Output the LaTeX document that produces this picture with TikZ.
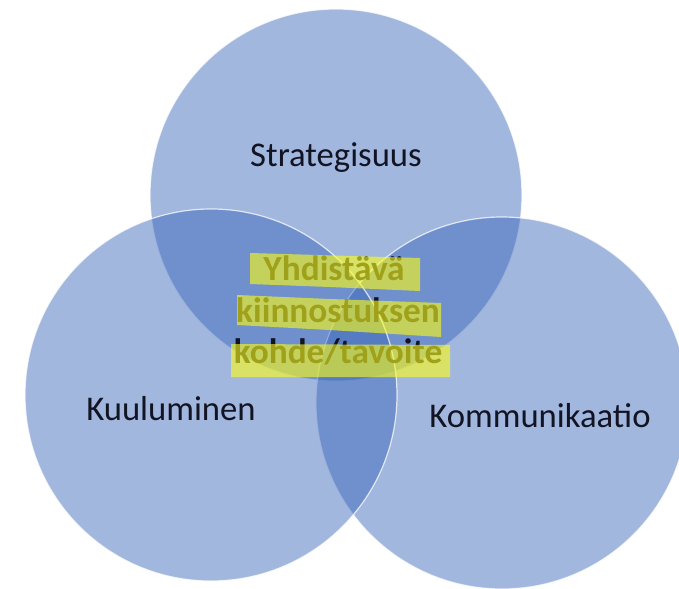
\documentclass[tikz,border=0pt]{standalone}
\usepackage{fontspec}
\setmainfont{Carlito}
\usepackage{tikz}
\usetikzlibrary{calc}
\tikzset{every picture/.style={line width=0.75pt}}
\definecolor{vennblue}{RGB}{55,101,185}
\definecolor{labelink}{RGB}{18,20,36}
\definecolor{marker}{RGB}{255,255,20}
\tikzset{
  venn/.style={circle, draw=white, draw opacity=0.75, line width=0.9pt, fill=vennblue, fill opacity=0.47, minimum size=279pt, inner sep=0pt},
  lbl/.style={anchor=base, inner sep=0.75pt, text=labelink, font=\fontsize{26}{31}\selectfont},
  goal/.style={lbl, font=\fontsize{26.5}{31}\selectfont\bfseries},
  hilite/.style={fill=marker, fill opacity=0.6}
}

\begin{document}
\begin{tikzpicture}[x=0.75pt,y=0.75pt,yscale=-1,xscale=1]
\useasboundingbox (0,0) rectangle (679,589);
%Circles
\node (strat) [venn] at (336,195) {};
\node (komm) [venn] at (502,403) {};
\node (kuul) [venn] at (211,395) {};
% Text Node
\node (stratlbl) [lbl] at (336,166) {Strategisuus};
% Text Node
\node (kuullbl) [lbl] at (171,420) {Kuuluminen};
% Text Node
\node (kommlbl) [lbl] at (540,427) {Kommunikaatio};
% Text Node
\node (goal1) [goal] at (334,280) {Yhdistävä};
\node (goal2) [goal] at (338,322) {kiinnostuksen};
\node (goal3) [goal] at (338,363) {kohde/tavoite};
%Highlighter strokes
\fill [hilite] (250,253) -- (420,258) -- (420,291) -- (330,287) -- (250,284) -- cycle;
\fill [hilite] (237,295) -- (330,299) -- (441,303) -- (441,337) -- (330,330) -- (237,325) -- cycle;
\fill [hilite] (231,344) -- (450,345) -- (450,377) -- (231,377) -- cycle;
\end{tikzpicture}
\end{document}
